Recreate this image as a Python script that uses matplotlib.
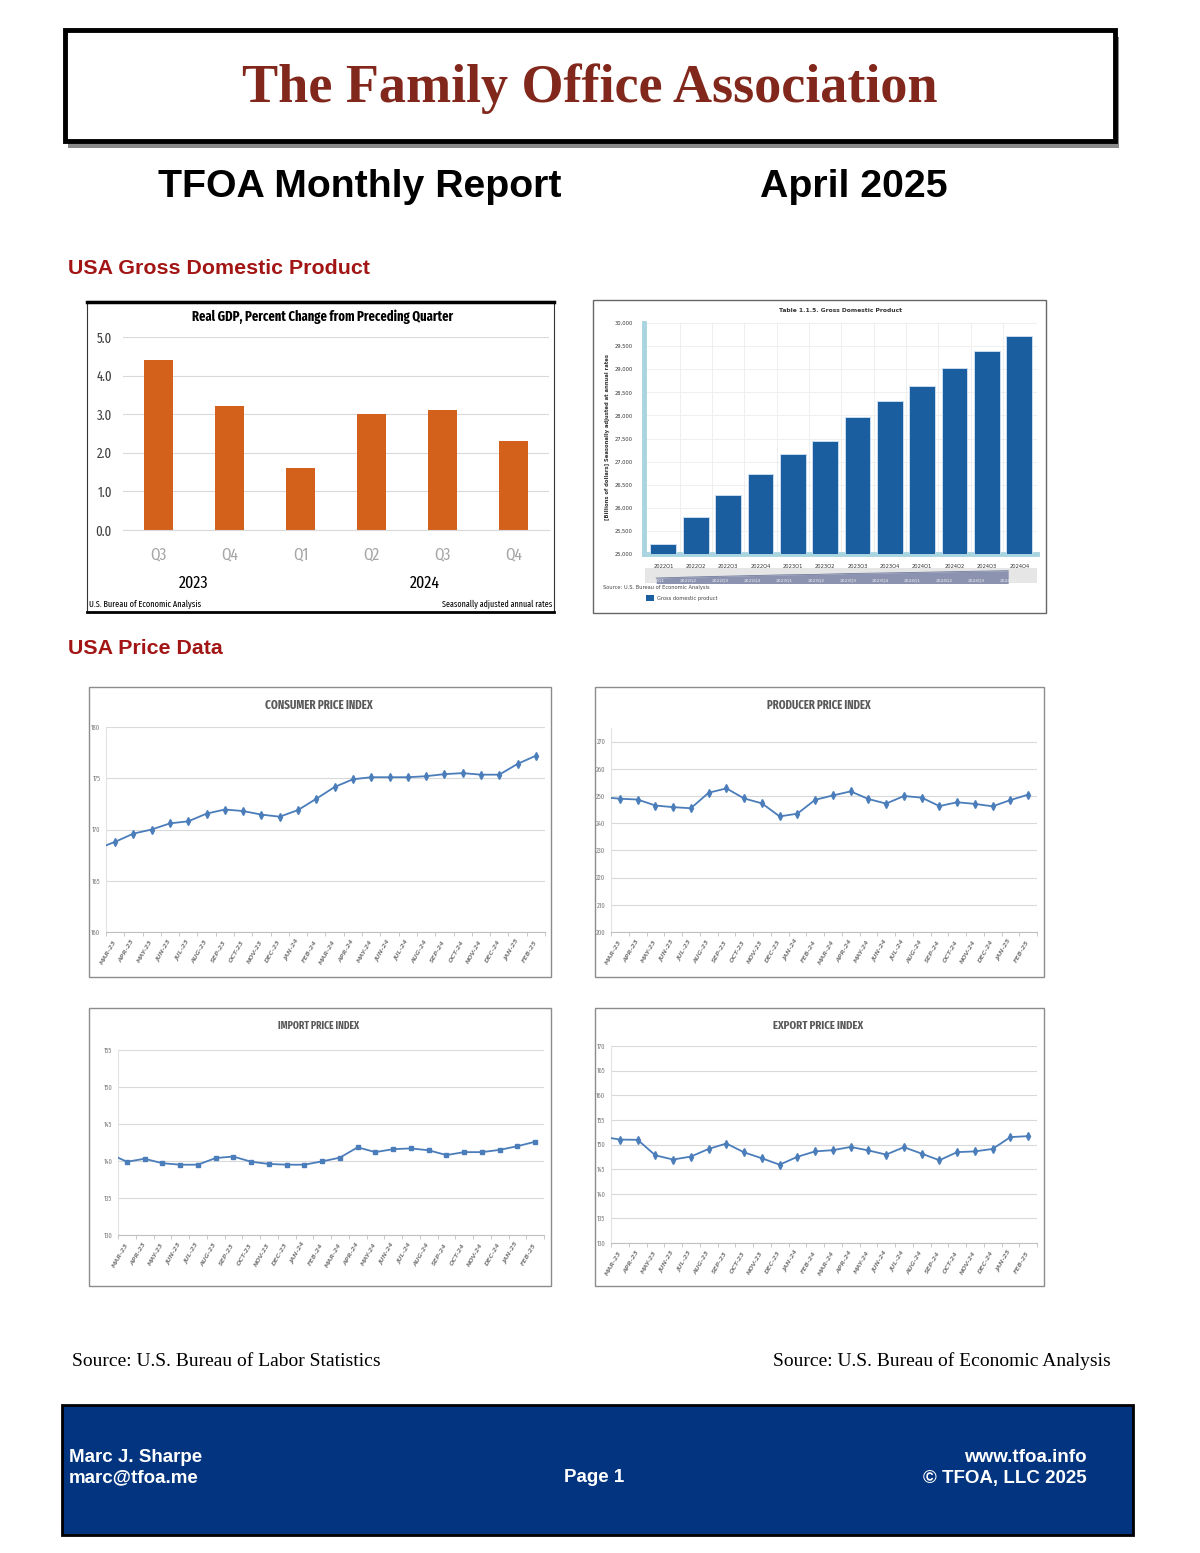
import numpy as np
import matplotlib
matplotlib.use('Agg')
import matplotlib.pyplot as plt
from matplotlib.patches import Rectangle
from matplotlib.ticker import StrMethodFormatter
from matplotlib import font_manager

W, H = 1200, 1553

# ---- data ----
gdp_qtrs = ['Q3', 'Q4', 'Q1', 'Q2', 'Q3', 'Q4']
gdp_years = ['2023', '2024']
gdp_growth = [4.4, 3.2, 1.6, 3.0, 3.1, 2.3]

gdp_level_qtrs = ['2022Q1', '2022Q2', '2022Q3', '2022Q4', '2023Q1', '2023Q2',
                  '2023Q3', '2023Q4', '2024Q1', '2024Q2', '2024Q3', '2024Q4']
gdp_level = [25215, 25810, 26280, 26735, 27175, 27455,
             27975, 28305, 28635, 29030, 29390, 29715]

months = ['MAR-23', 'APR-23', 'MAY-23', 'JUN-23', 'JUL-23', 'AUG-23',
          'SEP-23', 'OCT-23', 'NOV-23', 'DEC-23', 'JAN-24', 'FEB-24',
          'MAR-24', 'APR-24', 'MAY-24', 'JUN-24', 'JUL-24', 'AUG-24',
          'SEP-24', 'OCT-24', 'NOV-24', 'DEC-24', 'JAN-25', 'FEB-25']
# first value of each series is FEB-23, it is cut off at the left edge
cpi = [168.1, 168.8, 169.6, 170.0, 170.6, 170.8, 171.55, 171.95, 171.8, 171.45,
       171.25, 171.9, 173.0, 174.15, 174.9, 175.1, 175.1, 175.1, 175.2, 175.4,
       175.5, 175.35, 175.35, 176.4, 177.2]
ppi = [249.6, 249.0, 248.7, 246.5, 245.9, 245.5, 251.2, 252.8, 249.1, 247.3,
       242.5, 243.5, 248.6, 250.2, 251.7, 248.9, 247.2, 250.0, 249.4, 246.3,
       247.7, 247.1, 246.2, 248.5, 250.5]
imp = [141.0, 139.9, 140.3, 139.7, 139.5, 139.5, 140.4, 140.6, 139.9, 139.6,
       139.5, 139.5, 139.95, 140.45, 141.85, 141.2, 141.6, 141.7, 141.45, 140.8,
       141.2, 141.2, 141.5, 142.0, 142.6]
exp = [151.6, 151.0, 150.95, 147.8, 146.95, 147.55, 149.1, 150.2, 148.4, 147.2,
       145.9, 147.5, 148.6, 148.85, 149.5, 148.8, 147.95, 149.45, 148.15, 146.8,
       148.45, 148.6, 149.1, 151.5, 151.7]


# pick the narrowest condensed sans face that is installed
def narrow_rank(name):
    k = name.replace(' ', '').lower()
    if any(w in k for w in ('serif', 'mono', 'light', 'thin', 'black', 'medium',
                            'semibold', 'extrabold', 'cjk')):
        return 9
    if 'extracondensed' in k or 'ultracondensed' in k:
        return 0
    if 'narrow' in k:
        return 1
    if 'semicondensed' in k:
        return 3
    if 'condensed' in k:
        return 2
    return 9


cands = sorted({f.name for f in font_manager.fontManager.ttflist
                if narrow_rank(f.name) < 9}, key=narrow_rank)
NARROW = cands[0] if cands else 'Liberation Sans'
SANS = 'Liberation Sans'
SERIF = 'Liberation Serif'

ORANGE = '#D3601B'
NAVY = '#1B5EA0'
LINE = '#4A7DBA'
RED = '#A31515'

fig = plt.figure(figsize=(W / 100, H / 100), dpi=100)
renderer = fig.canvas.get_renderer()
pg = fig.add_axes([0, 0, 1, 1])
pg.set_xlim(0, W)
pg.set_ylim(H, 0)
pg.axis('off')


def px_axes(x0, y0, x1, y1):
    return fig.add_axes([x0 / W, 1 - y1 / H, (x1 - x0) / W, (y1 - y0) / H],
                        facecolor='none')


def fit(s, target, weight='normal', cap=None):
    # font size that gives the narrow text the wanted pixel width
    t = fig.text(0, 0, s, family=NARROW, fontsize=10, weight=weight)
    w = t.get_window_extent(renderer).width
    t.remove()
    size = 10 * target / w
    return min(size, cap) if cap else size


# ---- header ----
pg.add_patch(Rectangle((68, 37), 1051, 111, facecolor='#8a8a8a', edgecolor='none', zorder=1))
pg.add_patch(Rectangle((65, 30), 1050, 111, facecolor='white', edgecolor='black', lw=3.5, zorder=2))
pg.text(590, 89, 'The Family Office Association', family=SERIF, weight='bold',
        fontsize=39, color='#82271B', ha='center', va='center', zorder=3)
pg.text(158, 187, 'TFOA Monthly Report', family=SANS, weight='bold', fontsize=28.3,
        ha='left', va='center')
pg.text(760, 187, 'April 2025', family=SANS, weight='bold', fontsize=28.3,
        ha='left', va='center')
pg.text(68, 268, 'USA Gross Domestic Product', family=SANS, weight='bold',
        fontsize=15.4, color=RED, ha='left', va='center')
pg.text(68, 649, 'USA Price Data', family=SANS, weight='bold',
        fontsize=15.4, color=RED, ha='left', va='center')

# ---- real GDP growth (left) ----
gdp_title = 'Real GDP, Percent Change from Preceding Quarter'
src_l = 'U.S. Bureau of Economic Analysis'
src_r = 'Seasonally adjusted annual rates'
pg.add_patch(Rectangle((87, 301), 467, 311, facecolor='white', edgecolor='#333333', lw=0.8))
pg.plot([87, 554], [301.5, 301.5], color='black', lw=2.5)
pg.plot([87, 554], [612, 612], color='black', lw=2)
pg.text(323, 317, gdp_title, family=NARROW, weight='bold',
        fontsize=fit(gdp_title, 262, 'bold', 12.5), ha='center', va='center')
pg.text(89, 604, src_l, family=NARROW, fontsize=fit(src_l, 112, cap=9),
        ha='left', va='center')
pg.text(552, 604, src_r, family=NARROW, fontsize=fit(src_r, 110, cap=9),
        ha='right', va='center')

ax = px_axes(123, 337, 549, 530)
xg = np.arange(len(gdp_growth))
ax.bar(xg, gdp_growth, width=0.4, color=ORANGE)
ax.set_xlim(-0.5, len(gdp_growth) - 0.5)
ax.set_ylim(0, 5)
ax.set_yticks(np.arange(0, 5.1, 1))
ax.yaxis.set_major_formatter(StrMethodFormatter('{x:.1f}'))
ax.grid(axis='y', color='#D9D9D9', lw=0.8)
ax.set_axisbelow(True)
ax.set_xticks(xg)
ax.set_xticklabels(gdp_qtrs, color='#A6A6A6', family=NARROW, fontsize=12)
ax.tick_params(axis='x', length=0, pad=12)
ax.tick_params(axis='y', length=0, pad=8, labelcolor='#404040')
for lab in ax.get_yticklabels():
    lab.set(family=NARROW, fontsize=10)
for s in ax.spines.values():
    s.set_visible(False)
ax.spines['bottom'].set_visible(True)
ax.spines['bottom'].set_color('#D9D9D9')
tr = ax.get_xaxis_transform()
ax.text(0.5, -0.275, gdp_years[0], transform=tr, ha='center', va='center',
        family=NARROW, fontsize=12.5)
ax.text(3.75, -0.275, gdp_years[1], transform=tr, ha='center', va='center',
        family=NARROW, fontsize=12.5)

# ---- GDP level (right) ----
pg.add_patch(Rectangle((593, 300), 453, 313, facecolor='white', edgecolor='#666666', lw=1))
pg.text(841, 310, 'Table 1.1.5. Gross Domestic Product', family='DejaVu Sans',
        weight='bold', fontsize=4.3, color='#333333', ha='center', va='center')
pg.text(608, 437, '[Billions of dollars] Seasonally adjusted at annual rates',
        family='DejaVu Sans', weight='bold', fontsize=3.8, color='#333333',
        rotation=90, ha='center', va='center')
pg.text(603, 588, 'Source: U.S. Bureau of Economic Analysis', family='DejaVu Sans',
        fontsize=3.7, color='#444444', ha='left', va='center')
pg.add_patch(Rectangle((646, 595), 8, 6, facecolor=NAVY, edgecolor='none'))
pg.text(657, 598.5, 'Gross domestic product', family='DejaVu Sans',
        fontsize=3.7, color='#444444', ha='left', va='center')

ax2 = px_axes(644, 323, 1037, 554)
xl = np.arange(len(gdp_level))
ax2.bar(xl, gdp_level, width=0.8, color=NAVY, edgecolor='#C9DCEF', lw=0.7, zorder=3)
ax2.set_xlim(-0.6, len(gdp_level) - 0.45)
ax2.set_ylim(25000, 30000)
ax2.set_yticks(np.arange(25000, 30001, 500))
ax2.yaxis.set_major_formatter(StrMethodFormatter('{x:,.0f}'))
ax2.set_xticks(xl)
ax2.set_xticklabels(gdp_level_qtrs)
ax2.set_xticks(xl[:-1] + 0.5, minor=True)
ax2.grid(axis='y', color='#EDEDED', lw=0.6)
ax2.grid(axis='x', which='minor', color='#EDEDED', lw=0.6)
ax2.tick_params(which='both', length=0)
ax2.tick_params(axis='x', pad=7, labelsize=3.7, labelcolor='#333333')
ax2.tick_params(axis='y', pad=8, labelsize=3.7, labelcolor='#333333')
ax2.spines['top'].set_visible(False)
ax2.spines['right'].set_visible(False)
ax2.spines['left'].set_color('#A9D5E0')
ax2.spines['left'].set_linewidth(3.5)
ax2.spines['bottom'].set_color('#A9D5E0')
ax2.spines['bottom'].set_linewidth(3.5)

nav = px_axes(645, 568, 1037, 583)
nav.set_facecolor('#E6E6E6')
nav.fill_between(xl, gdp_level, 20000, color='#8B93B0', lw=0)
nav.plot(xl, gdp_level, color='#6F7A9C', lw=0.6)
nav.set_xlim(-0.35, len(gdp_level) - 0.1)
nav.set_ylim(22180, 31370)
nav.set_xticks([])
nav.set_yticks([])
for s in nav.spines.values():
    s.set_visible(False)
for i, q in enumerate(gdp_level_qtrs):
    nav.text(i, 0.2, q, transform=nav.get_xaxis_transform(), fontsize=3.2,
             color='#F2F2F2', ha='center', va='center')


# ---- price charts ----
def price_chart(frame, area, title, title_w, vals, ylo, yhi, step, marker, ms):
    fx0, fy0, fx1, fy1 = frame
    pg.add_patch(Rectangle((fx0, fy0), fx1 - fx0, fy1 - fy0, facecolor='white',
                           edgecolor='#8C8C8C', lw=1))
    pg.text((fx0 + fx1) / 2 - 1, fy0 + 18, title, color='#595959', family=NARROW,
            weight='bold', fontsize=fit(title, title_w, 'bold', 10),
            ha='center', va='center')
    a = px_axes(*area)
    x = np.arange(-1, len(months))
    a.plot(x, vals, color=LINE, lw=1.3, marker=marker, ms=ms,
           markevery=list(range(1, len(vals))), zorder=3)
    a.set_xlim(-0.5, len(months) - 0.5)
    a.set_yticks(np.arange(ylo, yhi + 0.01, step))
    a.set_ylim(ylo, yhi)
    a.grid(axis='y', color='#D9D9D9', lw=0.8)
    a.set_xticks(range(len(months)))
    a.set_xticklabels(months, rotation=60, ha='right', va='center',
                      rotation_mode='anchor', fontsize=4.6, style='italic',
                      weight='bold', color='#7F7F7F')
    a.set_xticks(np.arange(-0.5, len(months)), minor=True)
    a.tick_params(axis='x', which='major', length=0, pad=6)
    a.tick_params(axis='x', which='minor', length=3, color='#BFBFBF', width=0.6)
    a.tick_params(axis='y', length=0, pad=4, labelcolor='#7F7F7F')
    for lab in a.get_yticklabels():
        lab.set(family=NARROW, fontsize=5)
    a.spines['top'].set_visible(False)
    a.spines['right'].set_visible(False)
    a.spines['left'].set_color('#E3E3E3')
    a.spines['bottom'].set_color('#BFBFBF')
    return a


price_chart((89, 687, 551, 977), (106, 727, 545, 932), 'CONSUMER PRICE INDEX', 108,
            cpi, 160, 180, 5, 'd', 4)
price_chart((595, 687, 1044, 977), (611, 728, 1037, 932), 'PRODUCER PRICE INDEX', 104,
            ppi, 200, 275, 10, 'd', 4)
price_chart((89, 1008, 551, 1286), (118, 1050, 544, 1235), 'IMPORT PRICE INDEX', 81,
            imp, 130, 155, 5, 's', 3)
price_chart((595, 1008, 1044, 1286), (611, 1046, 1037, 1243), 'EXPORT PRICE INDEX', 90,
            exp, 130, 170, 5, 'd', 4)

# ---- sources and footer ----
pg.text(72, 1361, 'Source: U.S. Bureau of Labor Statistics', family=SERIF,
        fontsize=14, ha='left', va='center')
pg.text(1111, 1361, 'Source: U.S. Bureau of Economic Analysis', family=SERIF,
        fontsize=14, ha='right', va='center')

pg.add_patch(Rectangle((62, 1405), 1071, 130, facecolor='#02347F', edgecolor='black', lw=2))
ft = dict(family=SANS, weight='bold', fontsize=13.5, color='white', va='center')
pg.text(69, 1457, 'Marc J. Sharpe', ha='left', **ft)
pg.text(69, 1478, 'marc@tfoa.me', ha='left', **ft)
pg.text(594, 1478, 'Page 1', ha='center', **ft)
pg.text(1087, 1457, 'www.tfoa.info', ha='right', **ft)
pg.text(1087, 1478, '\u00a9 TFOA, LLC 2025', ha='right', **ft)

fig.savefig('out.png', dpi=100, facecolor='white')
